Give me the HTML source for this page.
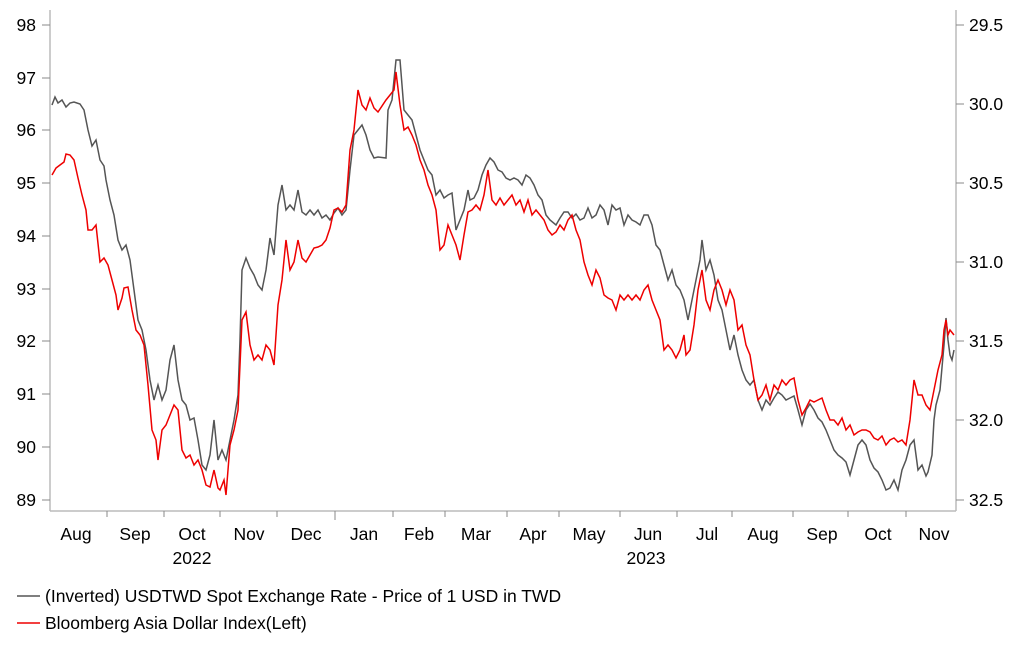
<!DOCTYPE html>
<html><head><meta charset="utf-8"><style>
body{margin:0;background:#fff;}
text{font-family:"Liberation Sans",Arial,sans-serif;font-size:17.5px;fill:#000;}
</style></head><body>
<svg width="1022" height="656" xmlns="http://www.w3.org/2000/svg">
<g stroke="#bbb" stroke-width="1.5" fill="none">
<line x1="50" y1="10" x2="50" y2="511"/>
<line x1="956" y1="10" x2="956" y2="511"/>
<line x1="50" y1="511" x2="956" y2="511"/>
</g>
<g stroke="#888" stroke-width="1">
<line x1="42" y1="25" x2="50" y2="25"/><line x1="42" y1="78" x2="50" y2="78"/><line x1="42" y1="130" x2="50" y2="130"/><line x1="42" y1="183" x2="50" y2="183"/><line x1="42" y1="236" x2="50" y2="236"/><line x1="42" y1="289" x2="50" y2="289"/><line x1="42" y1="341" x2="50" y2="341"/><line x1="42" y1="394" x2="50" y2="394"/><line x1="42" y1="447" x2="50" y2="447"/><line x1="42" y1="500" x2="50" y2="500"/>
<line x1="956" y1="25" x2="964" y2="25"/><line x1="956" y1="104" x2="964" y2="104"/><line x1="956" y1="183" x2="964" y2="183"/><line x1="956" y1="262" x2="964" y2="262"/><line x1="956" y1="341" x2="964" y2="341"/><line x1="956" y1="420" x2="964" y2="420"/><line x1="956" y1="500" x2="964" y2="500"/>
<line x1="107" y1="511" x2="107" y2="517"/><line x1="164" y1="511" x2="164" y2="517"/><line x1="220" y1="511" x2="220" y2="517"/><line x1="277" y1="511" x2="277" y2="517"/><line x1="335" y1="511" x2="335" y2="520"/><line x1="393" y1="511" x2="393" y2="517"/><line x1="445" y1="511" x2="445" y2="517"/><line x1="507" y1="511" x2="507" y2="517"/><line x1="559" y1="511" x2="559" y2="517"/><line x1="620" y1="511" x2="620" y2="517"/><line x1="677" y1="511" x2="677" y2="517"/><line x1="732" y1="511" x2="732" y2="517"/><line x1="793" y1="511" x2="793" y2="517"/><line x1="848" y1="511" x2="848" y2="517"/><line x1="906" y1="511" x2="906" y2="517"/>
</g>
<g text-anchor="end">
<text x="36" y="31">98</text><text x="36" y="84">97</text><text x="36" y="136">96</text><text x="36" y="189">95</text><text x="36" y="242">94</text><text x="36" y="295">93</text><text x="36" y="347">92</text><text x="36" y="400">91</text><text x="36" y="453">90</text><text x="36" y="506">89</text>
</g>
<g>
<text x="969" y="31">29.5</text><text x="969" y="110">30.0</text><text x="969" y="189">30.5</text><text x="969" y="268">31.0</text><text x="969" y="347">31.5</text><text x="969" y="426">32.0</text><text x="969" y="506">32.5</text>
</g>
<g text-anchor="middle">
<text x="76" y="540">Aug</text><text x="135" y="540">Sep</text><text x="192" y="540">Oct</text><text x="249" y="540">Nov</text><text x="306" y="540">Dec</text><text x="364" y="540">Jan</text><text x="419" y="540">Feb</text><text x="476" y="540">Mar</text><text x="533" y="540">Apr</text><text x="589" y="540">May</text><text x="648" y="540">Jun</text><text x="707" y="540">Jul</text><text x="763" y="540">Aug</text><text x="822" y="540">Sep</text><text x="878" y="540">Oct</text><text x="934" y="540">Nov</text>
<text x="192" y="564">2022</text><text x="646" y="564">2023</text>
</g>
<polyline fill="none" stroke="#555" stroke-width="1.5" points="52,105 55,97 58,103 62,100 66,107 70,103 74,102 80,104 84,110 88,130 92,146 96,140 100,160 104,166 106,180 110,200 114,215 118,240 122,250 126,245 130,260 134,290 138,320 142,330 146,350 150,380 154,400 158,385 162,400 166,390 170,360 174,345 178,380 182,400 186,405 190,420 194,418 198,440 202,465 206,470 210,455 214,420 218,460 222,450 226,460 230,440 234,420 238,395 240,340 242,270 246,258 250,268 254,275 258,285 262,290 266,270 270,238 274,255 278,205 282,185 286,210 290,205 294,210 298,190 302,212 306,215 310,210 314,215 318,210 322,218 326,215 330,220 334,213 338,208 342,215 346,210 350,170 354,135 358,130 362,125 366,135 370,150 374,158 378,157 386,158 388,110 392,100 396,60 400,60 404,110 408,115 412,120 416,135 420,150 424,160 428,170 432,175 436,195 440,190 444,198 448,195 452,193 456,230 460,220 464,210 468,190 470,200 474,198 478,190 482,175 486,165 490,158 494,162 498,170 502,172 506,178 510,180 514,178 518,180 522,185 526,175 530,178 534,185 538,195 542,200 546,215 550,220 556,225 560,218 564,212 568,212 572,218 576,214 580,220 584,218 588,208 592,218 596,215 600,205 604,210 608,225 612,205 616,210 620,208 624,225 628,215 632,220 636,222 640,225 644,215 648,215 652,225 656,245 660,250 664,265 668,280 672,270 676,285 680,290 684,300 688,320 692,300 696,280 700,260 702,240 706,270 710,260 714,275 718,300 722,310 726,330 730,350 734,335 738,355 742,370 746,380 750,385 754,380 758,400 762,410 766,400 770,405 774,398 778,392 782,395 786,400 790,398 794,396 798,410 802,425 806,410 810,404 814,410 818,418 822,422 826,430 830,440 834,450 838,455 842,458 846,462 850,475 854,460 858,445 862,440 866,445 870,460 874,468 878,472 882,480 886,490 890,488 894,480 898,490 902,470 906,460 910,445 914,440 918,470 922,465 926,476 928,472 932,455 934,420 936,405 940,390 944,345 946,318 948,340 950,355 952,360 954,350"/>
<polyline fill="none" stroke="#e00" stroke-width="1.5" points="52,175 56,168 60,165 64,162 66,154 70,155 74,160 78,178 82,195 86,210 88,230 92,230 96,225 100,262 104,258 108,265 112,280 116,295 118,310 122,298 124,288 128,287 132,310 136,330 140,335 144,345 148,385 152,430 156,440 158,460 162,430 166,425 170,415 174,405 178,410 182,450 186,458 190,455 194,465 198,460 202,470 206,485 210,487 214,470 218,488 220,490 224,480 226,495 230,445 234,430 238,410 242,320 246,312 250,345 254,360 258,355 262,360 266,345 270,350 274,365 278,305 282,280 286,240 290,270 294,262 298,240 302,258 306,262 310,255 314,248 318,247 322,245 326,240 330,228 334,210 338,208 342,212 346,205 350,150 354,130 358,90 362,105 366,110 370,98 374,108 378,112 386,100 390,95 394,90 396,72 400,105 404,130 408,127 412,135 416,145 420,160 424,170 428,185 432,195 436,210 440,250 444,245 448,225 452,235 456,245 460,260 464,235 468,212 472,210 476,205 480,210 484,195 488,170 492,200 496,205 500,198 504,205 508,200 512,195 516,205 520,200 524,212 528,200 532,215 536,210 540,215 544,220 548,230 552,235 556,232 560,225 564,230 568,220 572,215 576,230 580,240 584,262 588,275 592,285 596,270 600,278 604,295 608,298 612,300 616,310 620,295 624,300 628,295 632,300 636,295 640,300 644,290 648,285 652,300 656,310 660,320 664,350 668,345 672,350 676,358 680,350 684,335 686,355 690,350 694,325 698,290 702,270 706,300 710,310 714,290 718,280 722,290 726,305 730,290 734,300 738,330 742,325 746,345 750,355 754,380 758,400 762,395 766,385 770,400 774,385 778,390 782,380 786,385 790,380 794,378 798,400 802,415 806,408 810,400 814,402 818,400 822,398 826,410 830,420 834,420 838,425 842,418 846,430 850,425 854,435 858,432 862,430 866,430 870,432 874,438 878,440 882,436 886,445 890,440 894,438 898,442 902,440 906,445 910,420 914,380 918,395 922,395 926,405 930,410 934,390 938,370 942,355 944,330 946,320 948,335 950,330 954,335"/>
<line x1="17" y1="596" x2="40" y2="596" stroke="#555" stroke-width="1.5"/>
<text x="45" y="602">(Inverted) USDTWD Spot Exchange Rate - Price of 1 USD in TWD</text>
<line x1="17" y1="623" x2="40" y2="623" stroke="#e00" stroke-width="1.5"/>
<text x="45" y="629">Bloomberg Asia Dollar Index(Left)</text>
</svg>
</body></html>
